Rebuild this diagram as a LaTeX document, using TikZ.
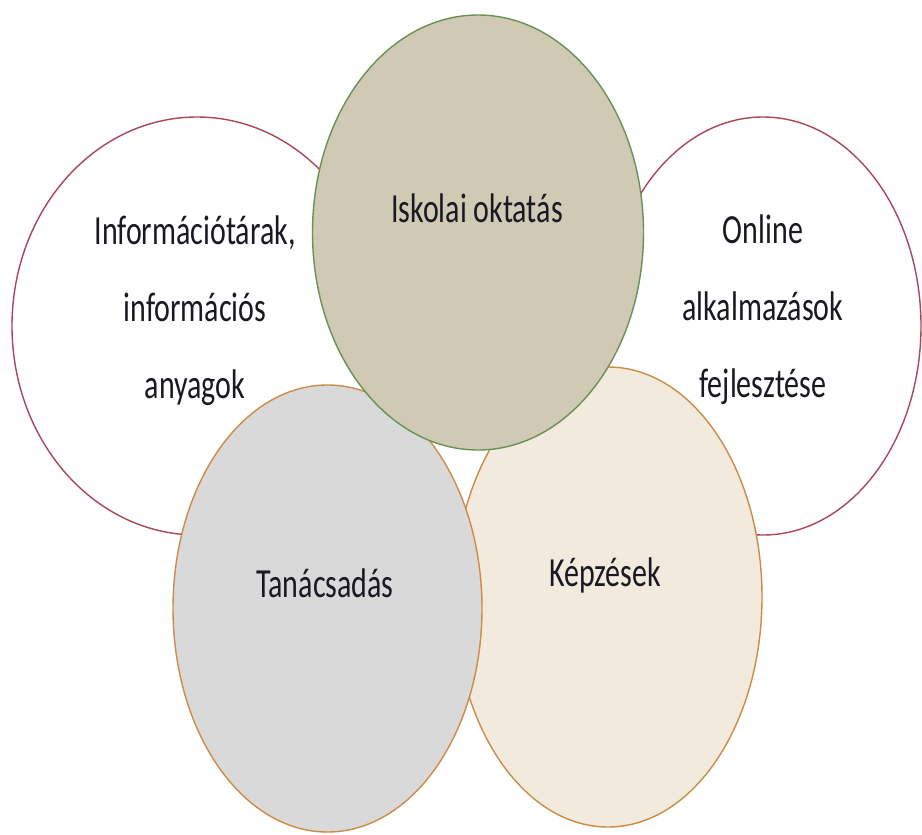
\documentclass[tikz,border=0pt]{standalone}
\usepackage{fontspec}
\setmainfont{Carlito}
\usetikzlibrary{shapes.geometric}
\definecolor{redline}{RGB}{170,70,90}
\definecolor{greenline}{RGB}{105,145,85}
\definecolor{orangeline}{RGB}{205,140,70}
\definecolor{topfill}{RGB}{208,202,181}
\definecolor{grayfill}{RGB}{217,217,217}
\definecolor{creamfill}{RGB}{242,234,220}
\definecolor{txt}{RGB}{25,25,35}
\tikzset{
  bubble/.style={ellipse, inner sep=0pt, line width=1.4pt},
  lbl/.style={text=txt, align=center, font=\fontsize{30}{55.8}\selectfont, yscale=1.38, transform shape}
}
\begin{document}
\begin{tikzpicture}[x=1pt,y=-1pt]
\useasboundingbox[fill=white] (0,0) rectangle (922,835);
\node[bubble, draw=redline, fill=white, minimum width=370pt, minimum height=418pt] (left) at (197,326) {};
\node[bubble, draw=redline, fill=white, minimum width=316pt, minimum height=418pt] (right) at (763,326) {};
\node[bubble, draw=orangeline, fill=creamfill, minimum width=308pt, minimum height=460pt] (cream) at (608,597) {};
\node[bubble, draw=orangeline, fill=grayfill, minimum width=309pt, minimum height=447pt] (gray) at (327.5,608.5) {};
\node[bubble, draw=greenline, fill=topfill, minimum width=331pt, minimum height=435pt] (top) at (478,232.5) {};
\node[lbl] (tleft) at (195,311) {Információtárak,\\információs\\anyagok};
\node[lbl] (tright) at (763,310) {Online\\alkalmazások\\fejlesztése};
\node[lbl] (ttop) at (477,208) {Iskolai oktatás};
\node[lbl] (tgray) at (325,583) {Tanácsadás};
\node[lbl] (tcream) at (605,575) {Képzések};
\end{tikzpicture}
\end{document}
